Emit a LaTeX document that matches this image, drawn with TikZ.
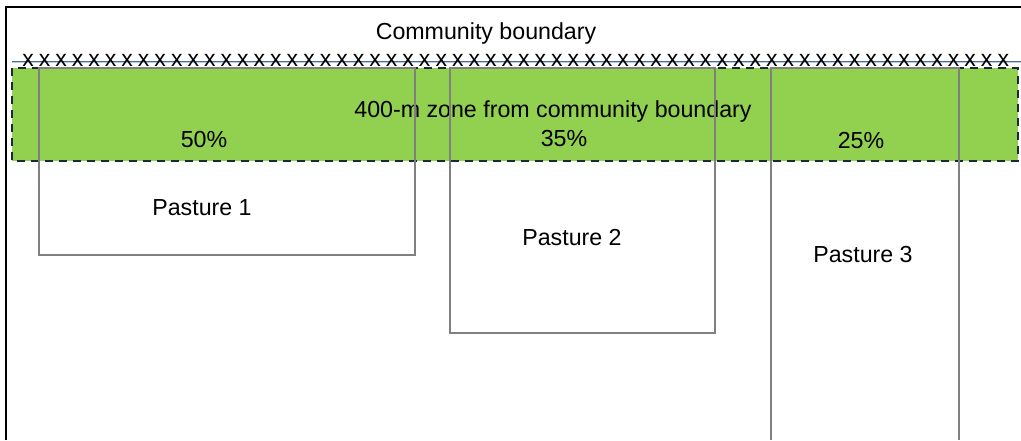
\documentclass[tikz,border=0pt]{standalone}
\usepackage{fontspec}
\setmainfont{Liberation Sans}
\definecolor{zonegreen}{HTML}{92D050}
\definecolor{zoneedge}{HTML}{1A2A3A}
\definecolor{fenceblue}{HTML}{41719C}
\definecolor{pasturegray}{HTML}{808080}

\begin{document}
\begin{tikzpicture}[x=1pt,y=-1pt,
    lbl/.style={anchor=base,inner sep=0pt,font=\fontsize{23.2}{27}\selectfont},
    xmark/.style={inner sep=0pt,font=\fontsize{23}{27}\selectfont},
    pasture/.style={draw=pasturegray,line width=2pt}]
  \useasboundingbox (0,0) rectangle (1021,440);

  % frame
  \draw[line width=2pt] (6,440) -- (6,7) -- (1021,7);
  \node[lbl] (boundary) at (486,39) {Community boundary};

  % 400-m zone
  \fill[zonegreen] (12,68) rectangle (1018,161);
  \draw[zoneedge,line width=1.8pt,dash pattern=on 8pt off 6pt] (12,68) rectangle (1018,161);

  % fence
  \draw[draw=fenceblue,double=fenceblue!35,double distance=0.8pt,line width=0.9pt] (12,62) -- (1021,62);
  \foreach \i in {0,...,59}
    \node[xmark] (x\i) at ({28+\i*16.53},60) {x};

  \node[lbl] (zone) at (553,117) {400-m zone from community boundary};
  \node[lbl] (share1) at (204,147) {50\%};
  \node[lbl] (share2) at (564,146) {35\%};
  \node[lbl] (share3) at (861,148) {25\%};

  % pastures
  \draw[pasture] (39,68) rectangle (415,255);
  \draw[pasture] (450,68) rectangle (715,333);
  \draw[pasture] (771,440) -- (771,68) -- (959,68) -- (959,440);

  \node[lbl] (p1) at (202,215) {Pasture 1};
  \node[lbl] (p2) at (572,245) {Pasture 2};
  \node[lbl] (p3) at (863,262) {Pasture 3};
\end{tikzpicture}
\end{document}
